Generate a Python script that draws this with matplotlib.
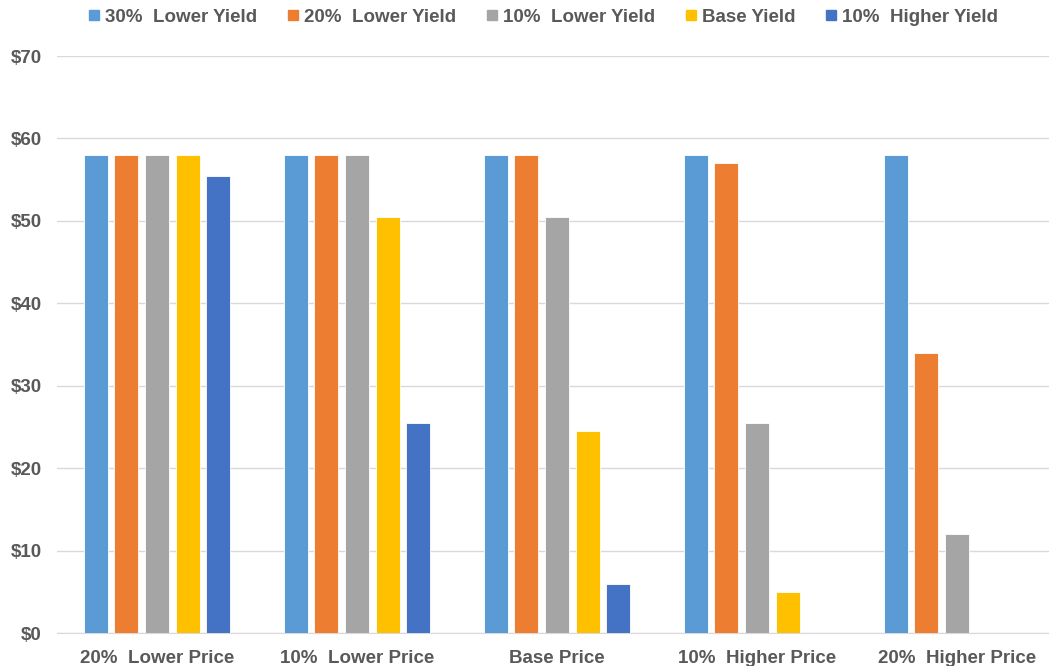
import numpy as np
import matplotlib
matplotlib.use('Agg')
import matplotlib.pyplot as plt
from matplotlib.lines import Line2D

categories = ['20%  Lower Price', '10%  Lower Price', 'Base Price', '10%  Higher Price', '20%  Higher Price']
series_names = ['30%  Lower Yield', '20%  Lower Yield', '10%  Lower Yield', 'Base Yield', '10%  Higher Yield']
lower30 = [58, 58, 58, 58, 58]
lower20 = [58, 58, 58, 57, 34]
lower10 = [58, 58, 50.5, 25.5, 12]
base = [58, 50.5, 24.5, 5, 0]
higher10 = [55.5, 25.5, 6, 0, 0]
yticks = [0, 10, 20, 30, 40, 50, 60, 70]

colors = ['#5B9BD5', '#ED7D31', '#A5A5A5', '#FFC000', '#4472C4']
txt = '#595959'
plt.rcParams['font.family'] = ['Liberation Sans', 'DejaVu Sans']
fs = 13.5

fig = plt.figure(figsize=(10.49, 6.66), dpi=100)
ax = fig.add_axes([57 / 1049, 1 - 633 / 666, 1000 / 1049, (633 - 56) / 666])

x = np.arange(len(categories))
pitch, width = 0.1535, 0.12
for i, vals in enumerate([lower30, lower20, lower10, base, higher10]):
    ax.bar(x + (i - 2) * pitch, vals, width, color=colors[i], edgecolor='white', linewidth=0.6, zorder=3)

ax.set_xlim(-0.5, len(categories) - 0.5)
ax.set_ylim(0, 70)
ax.set_yticks(yticks)
ax.set_yticklabels([f'${v}' for v in yticks])
ax.set_xticks(x)
ax.set_xticklabels(categories)
ax.grid(axis='y', color='#D9D9D9', linewidth=1, zorder=0)
for s in ['top', 'right', 'left']:
    ax.spines[s].set_visible(False)
ax.spines['bottom'].set_color('#D9D9D9')
ax.tick_params(axis='both', length=0, labelcolor=txt, labelsize=fs)
ax.tick_params(axis='y', pad=11)
ax.tick_params(axis='x', pad=12)
for lab in ax.get_xticklabels() + ax.get_yticklabels():
    lab.set_fontweight('bold')

handles = [Line2D([], [], marker='s', linestyle='none', markersize=7.5, color=c) for c in colors]
fig.legend(handles, series_names, loc='center', bbox_to_anchor=(0.517, 1 - 17 / 666), ncol=5,
           frameon=False, handletextpad=0.2, columnspacing=1.5, handlelength=0.8,
           prop={'weight': 'bold', 'size': fs}, labelcolor=txt)

fig.savefig('out.png', dpi=100)
